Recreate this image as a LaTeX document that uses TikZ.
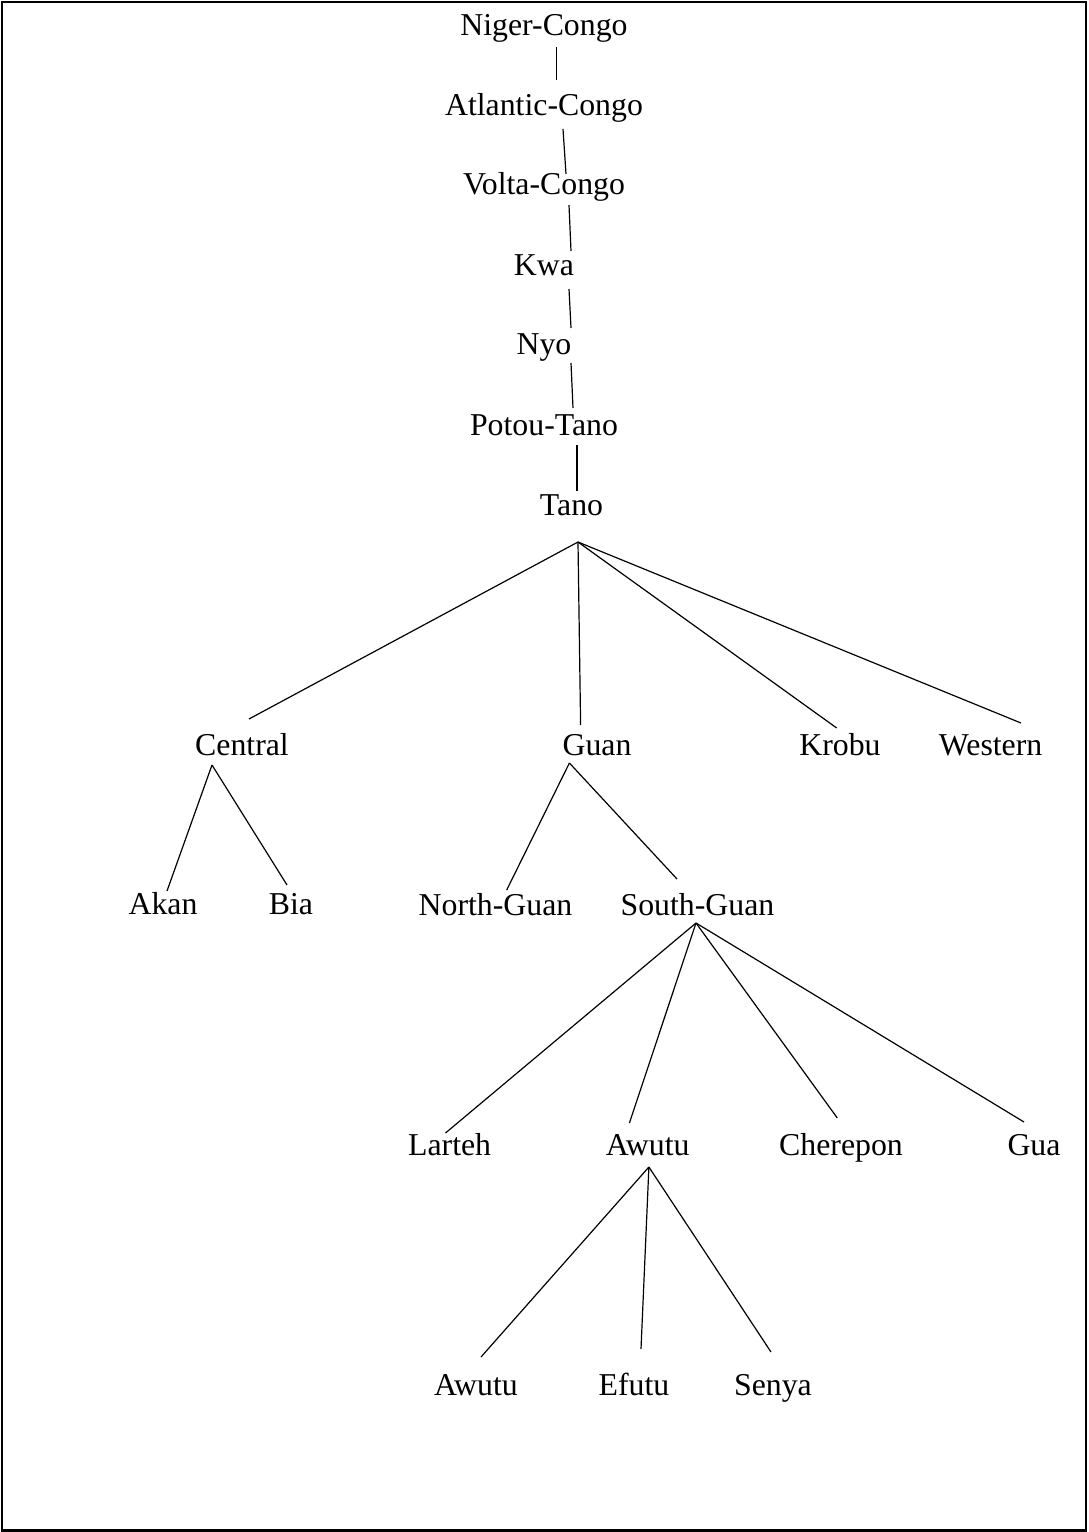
\documentclass[tikz,border=0pt]{standalone}
\usepackage{fontspec}
\setmainfont{Liberation Serif}
\begin{document}
\begin{tikzpicture}[x=1pt,y=-1pt,
  lbl/.style={inner sep=0pt, anchor=base, font=\fontsize{31.8}{38}\selectfont},
  edge/.style={line width=1.2pt, black},
  frame/.style={line width=2.6pt, black}]
\useasboundingbox (0,0) rectangle (1088,1532);
\draw[frame] (2,2) rectangle (1086,1530.5);
% nodes
\node[lbl] (nc)  at (544,35)  {Niger-Congo};
\node[lbl] (ac)  at (544,115) {Atlantic-Congo};
\node[lbl] (vc)  at (544,194) {Volta-Congo};
\node[lbl] (kwa) at (544,275) {Kwa};
\node[lbl] (nyo) at (544,354) {Nyo};
\node[lbl] (pt)  at (544,435) {Potou-Tano};
\node[lbl] (tano) at (571.5,515) {Tano};
\node[lbl] (cen) at (242,755) {Central};
\node[lbl] (guan) at (597,755) {Guan};
\node[lbl] (kro) at (840,755) {Krobu};
\node[lbl] (wes) at (990.6,755) {Western};
\node[lbl] (akan) at (163,914) {Akan};
\node[lbl] (bia) at (291,914) {Bia};
\node[lbl] (ng) at (495.5,915) {North-Guan};
\node[lbl] (sg) at (697.5,915) {South-Guan};
\node[lbl] (lar) at (449.6,1155) {Larteh};
\node[lbl] (awu) at (647.7,1155) {Awutu};
\node[lbl] (che) at (841,1155) {Cherepon};
\node[lbl] (gua) at (1034,1155) {Gua};
\node[lbl] (awu2) at (476,1395) {Awutu};
\node[lbl] (efu) at (634,1395) {Efutu};
\node[lbl] (sen) at (773,1395) {Senya};
% chain
\draw[edge] ([shift={(12.7,12)}]nc.base) -- ([shift={(12.7,-35)}]ac.base);
\draw[edge] ([shift={(19,14)}]ac.base) -- ([shift={(22,-20)}]vc.base);
\draw[edge] ([shift={(25,11)}]vc.base) -- ([shift={(27,-24)}]kwa.base);
\draw[edge] ([shift={(25,14)}]kwa.base) -- ([shift={(27,-26)}]nyo.base);
\draw[edge] ([shift={(27,9)}]nyo.base) -- ([shift={(29,-27)}]pt.base);
\draw[edge] ([shift={(33,10)}]pt.base) -- ([shift={(5.5,-24)}]tano.base);
% Tano fan
\draw[edge] ([shift={(6.5,27)}]tano.base) -- ([shift={(7,-36)}]cen.base);
\draw[edge] ([shift={(6.5,27)}]tano.base) -- ([shift={(-16.4,-30)}]guan.base);
\draw[edge] ([shift={(6.5,27)}]tano.base) -- ([shift={(-3.3,-27)}]kro.base);
\draw[edge] ([shift={(6.5,27)}]tano.base) -- ([shift={(30.4,-32)}]wes.base);
% Central fan
\draw[edge] ([shift={(-30,10)}]cen.base) -- ([shift={(4,-23)}]akan.base);
\draw[edge] ([shift={(-30,10)}]cen.base) -- ([shift={(-4,-29)}]bia.base);
% Guan fan
\draw[edge] ([shift={(-27.6,8)}]guan.base) -- ([shift={(11.2,-25)}]ng.base);
\draw[edge] ([shift={(-27.6,8)}]guan.base) -- ([shift={(-20.5,-36)}]sg.base);
% South-Guan fan
\draw[edge] ([shift={(-1.5,8)}]sg.base) -- ([shift={(-4.1,-22)}]lar.base);
\draw[edge] ([shift={(-1.5,8)}]sg.base) -- ([shift={(-18.3,-32)}]awu.base);
\draw[edge] ([shift={(-1.5,8)}]sg.base) -- ([shift={(-3.7,-37)}]che.base);
\draw[edge] ([shift={(-1.5,8)}]sg.base) -- ([shift={(-10,-33)}]gua.base);
% Awutu fan
\draw[edge] ([shift={(1.2,12)}]awu.base) -- ([shift={(5,-38)}]awu2.base);
\draw[edge] ([shift={(1.2,12)}]awu.base) -- ([shift={(7,-46)}]efu.base);
\draw[edge] ([shift={(1.2,12)}]awu.base) -- ([shift={(-2,-43)}]sen.base);
\end{tikzpicture}
\end{document}
